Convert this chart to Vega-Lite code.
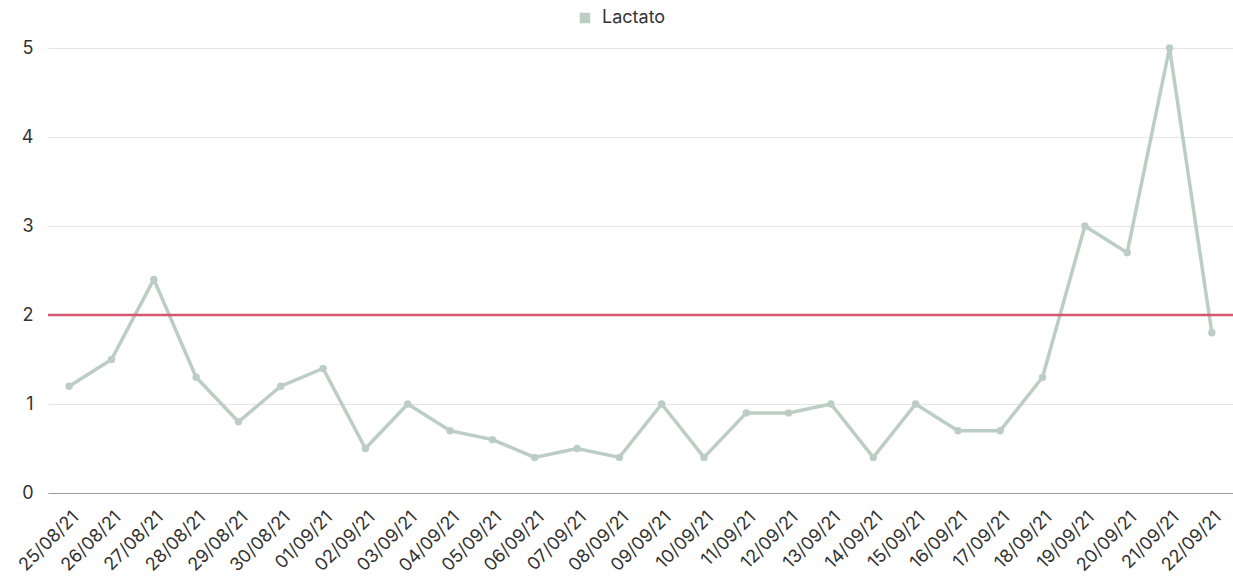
{
  "$schema": "https://vega.github.io/schema/vega-lite/v6.json",
  "autosize": {"type": "none"},
  "width": 1185,
  "height": 445,
  "padding": {"left": 48, "top": 48, "right": 0, "bottom": 93},
  "background": "white",
  "config": {
    "font": "Inter",
    "view": {"stroke": null}
  },
  "datasets": {
    "lactato": [
      {"fecha": "25/08/21", "valor": 1.2, "serie": "Lactato"},
      {"fecha": "26/08/21", "valor": 1.5, "serie": "Lactato"},
      {"fecha": "27/08/21", "valor": 2.4, "serie": "Lactato"},
      {"fecha": "28/08/21", "valor": 1.3, "serie": "Lactato"},
      {"fecha": "29/08/21", "valor": 0.8, "serie": "Lactato"},
      {"fecha": "30/08/21", "valor": 1.2, "serie": "Lactato"},
      {"fecha": "01/09/21", "valor": 1.4, "serie": "Lactato"},
      {"fecha": "02/09/21", "valor": 0.5, "serie": "Lactato"},
      {"fecha": "03/09/21", "valor": 1.0, "serie": "Lactato"},
      {"fecha": "04/09/21", "valor": 0.7, "serie": "Lactato"},
      {"fecha": "05/09/21", "valor": 0.6, "serie": "Lactato"},
      {"fecha": "06/09/21", "valor": 0.4, "serie": "Lactato"},
      {"fecha": "07/09/21", "valor": 0.5, "serie": "Lactato"},
      {"fecha": "08/09/21", "valor": 0.4, "serie": "Lactato"},
      {"fecha": "09/09/21", "valor": 1.0, "serie": "Lactato"},
      {"fecha": "10/09/21", "valor": 0.4, "serie": "Lactato"},
      {"fecha": "11/09/21", "valor": 0.9, "serie": "Lactato"},
      {"fecha": "12/09/21", "valor": 0.9, "serie": "Lactato"},
      {"fecha": "13/09/21", "valor": 1.0, "serie": "Lactato"},
      {"fecha": "14/09/21", "valor": 0.4, "serie": "Lactato"},
      {"fecha": "15/09/21", "valor": 1.0, "serie": "Lactato"},
      {"fecha": "16/09/21", "valor": 0.7, "serie": "Lactato"},
      {"fecha": "17/09/21", "valor": 0.7, "serie": "Lactato"},
      {"fecha": "18/09/21", "valor": 1.3, "serie": "Lactato"},
      {"fecha": "19/09/21", "valor": 3.0, "serie": "Lactato"},
      {"fecha": "20/09/21", "valor": 2.7, "serie": "Lactato"},
      {"fecha": "21/09/21", "valor": 5.0, "serie": "Lactato"},
      {"fecha": "22/09/21", "valor": 1.8, "serie": "Lactato"}
    ],
    "umbral": [{"limite": 2}]
  },
  "layer": [
    {
      "data": {"name": "lactato"},
      "mark": {"type": "line", "strokeWidth": 3.5, "point": {"filled": true, "size": 55}},
      "encoding": {
        "x": {
          "field": "fecha",
          "type": "ordinal",
          "sort": null,
          "scale": {"type": "point", "padding": 0.5},
          "axis": {
            "title": null,
            "labelAngle": -45,
            "labelFontSize": 18,
            "labelColor": "#333333",
            "labelPadding": 15,
            "labelOverlap": false,
            "ticks": false,
            "domain": true,
            "domainColor": "#999999",
            "domainWidth": 1.2,
            "grid": false
          }
        },
        "y": {
          "field": "valor",
          "type": "quantitative",
          "scale": {"domain": [0, 5], "nice": false},
          "axis": {
            "title": null,
            "values": [0, 1, 2, 3, 4, 5],
            "format": "d",
            "labelFontSize": 18,
            "labelColor": "#333333",
            "labelPadding": 15,
            "ticks": false,
            "domain": false,
            "grid": true,
            "gridColor": "#e6e6e6",
            "gridWidth": 1.2
          }
        },
        "color": {
          "field": "serie",
          "type": "nominal",
          "scale": {"range": ["#bccdc4"]},
          "legend": {
            "title": null,
            "orient": "none",
            "legendX": 528,
            "legendY": -39,
            "direction": "horizontal",
            "symbolType": "square",
            "symbolSize": 80,
            "labelFontSize": 18,
            "labelColor": "#333333",
            "labelOffset": 8
          }
        }
      }
    },
    {
      "data": {"name": "umbral"},
      "mark": {"type": "rule", "color": "#d4566f", "strokeWidth": 2.5},
      "encoding": {
        "y": {"field": "limite", "type": "quantitative"}
      }
    }
  ]
}
